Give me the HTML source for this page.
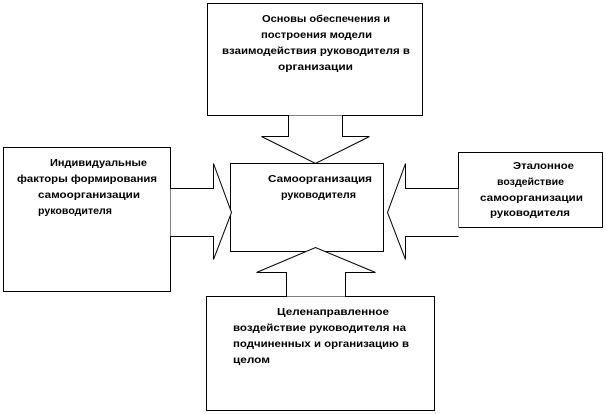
<!DOCTYPE html>
<html><head><meta charset="utf-8"><style>html,body{margin:0;padding:0;background:#fff}svg{display:block}text{font-family:"Liberation Sans",sans-serif;font-weight:bold;font-size:10px;fill:#000}</style></head>
<body>
<svg width="606" height="414" viewBox="0 0 606 414" xmlns="http://www.w3.org/2000/svg">
<g fill="#fff" stroke="#000" stroke-width="1">
<rect x="207.5" y="3.5" width="215" height="112"/>
<rect x="3.5" y="147.5" width="167" height="144"/>
<rect x="230.5" y="163.5" width="153" height="88"/>
<rect x="458.5" y="152.5" width="144" height="75"/>
<rect x="206.5" y="296.5" width="228" height="114"/>
<polyline points="288.5,115.5 288.5,136.5 261.5,136.5 315.5,163.5 369.5,136.5 342.5,136.5 342.5,115.5"/>
<polyline points="170.5,188.5 213.5,188.5 213.5,163.5 231.5,212.5 213.5,259.5 213.5,236.5 170.5,236.5"/>
<polyline points="458.5,188.5 405.5,188.5 405.5,163.5 387.5,212.5 405.5,259.5 405.5,236.5 458.5,236.5"/>
<polyline points="286.5,296.5 286.5,272.5 256.5,272.5 315.5,247.5 375.5,272.5 345.5,272.5 345.5,296.5"/>
</g>
<text x="262" y="22" textLength="128" lengthAdjust="spacingAndGlyphs">Основы обеспечения  и</text>
<text x="261" y="38" textLength="111" lengthAdjust="spacingAndGlyphs">построения модели</text>
<text x="222" y="54" textLength="188" lengthAdjust="spacingAndGlyphs">взаимодействия  руководителя  в</text>
<text x="278" y="70" textLength="75" lengthAdjust="spacingAndGlyphs">организации</text>
<text x="50" y="166" textLength="97" lengthAdjust="spacingAndGlyphs">Индивидуальные</text>
<text x="17" y="182" textLength="140" lengthAdjust="spacingAndGlyphs">факторы формирования</text>
<text x="38" y="198" textLength="102" lengthAdjust="spacingAndGlyphs">самоорганизации</text>
<text x="38" y="214" textLength="74" lengthAdjust="spacingAndGlyphs">руководителя</text>
<text x="268" y="182" textLength="104" lengthAdjust="spacingAndGlyphs">Самоорганизация</text>
<text x="281" y="198" textLength="75" lengthAdjust="spacingAndGlyphs">руководителя</text>
<text x="513" y="169" textLength="61" lengthAdjust="spacingAndGlyphs">Эталонное</text>
<text x="497" y="185" textLength="67" lengthAdjust="spacingAndGlyphs">воздействие</text>
<text x="480" y="201" textLength="103" lengthAdjust="spacingAndGlyphs">самоорганизации</text>
<text x="490" y="216" textLength="80" lengthAdjust="spacingAndGlyphs">руководителя</text>
<text x="277" y="315" textLength="112" lengthAdjust="spacingAndGlyphs">Целенаправленное</text>
<text x="233" y="331" textLength="173" lengthAdjust="spacingAndGlyphs">воздействие  руководителя  на</text>
<text x="233" y="347" textLength="176" lengthAdjust="spacingAndGlyphs">подчиненных  и организацию в</text>
<text x="233" y="363" textLength="37" lengthAdjust="spacingAndGlyphs">целом</text>
</svg>
</body></html>
